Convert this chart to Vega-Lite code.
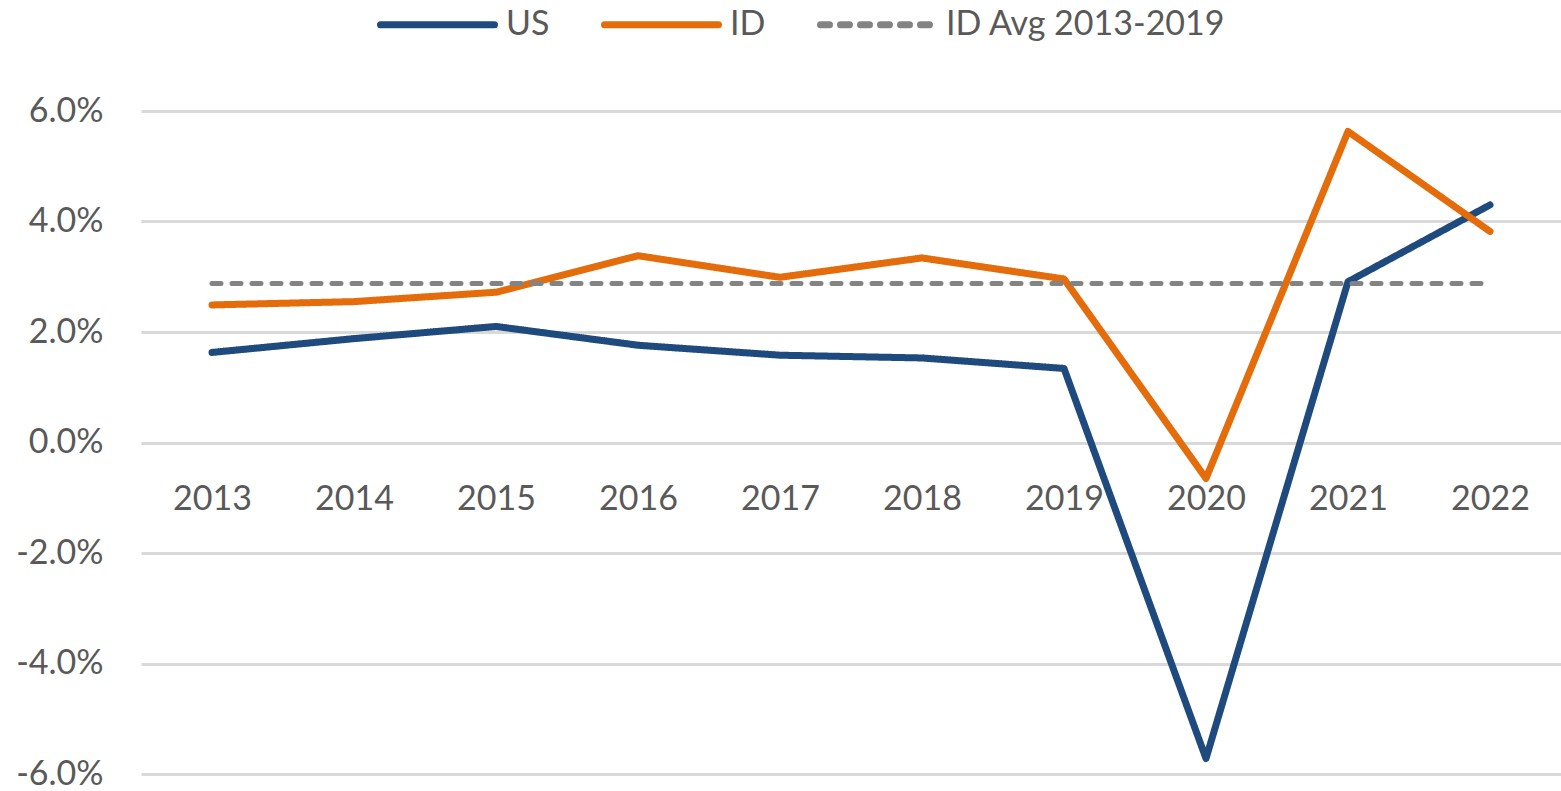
{
  "$schema": "https://vega.github.io/schema/vega-lite/v6.json",
  "width": 1420,
  "height": 663,
  "autosize": {"type": "none"},
  "padding": {"left": 141, "top": 111, "right": 0, "bottom": 17},
  "background": "white",
  "config": {
    "view": {"stroke": null},
    "font": "Lato"
  },
  "data": {
    "values": [
      {"year": "2013", "series": "US", "value": 1.63},
      {"year": "2014", "series": "US", "value": 1.88},
      {"year": "2015", "series": "US", "value": 2.10},
      {"year": "2016", "series": "US", "value": 1.76},
      {"year": "2017", "series": "US", "value": 1.58},
      {"year": "2018", "series": "US", "value": 1.53},
      {"year": "2019", "series": "US", "value": 1.34},
      {"year": "2020", "series": "US", "value": -5.72},
      {"year": "2021", "series": "US", "value": 2.91},
      {"year": "2022", "series": "US", "value": 4.30},
      {"year": "2013", "series": "ID", "value": 2.49},
      {"year": "2014", "series": "ID", "value": 2.55},
      {"year": "2015", "series": "ID", "value": 2.72},
      {"year": "2016", "series": "ID", "value": 3.38},
      {"year": "2017", "series": "ID", "value": 2.99},
      {"year": "2018", "series": "ID", "value": 3.34},
      {"year": "2019", "series": "ID", "value": 2.96},
      {"year": "2020", "series": "ID", "value": -0.65},
      {"year": "2021", "series": "ID", "value": 5.63},
      {"year": "2022", "series": "ID", "value": 3.82},
      {"year": "2013", "series": "ID Avg 2013-2019", "value": 2.88},
      {"year": "2014", "series": "ID Avg 2013-2019", "value": 2.88},
      {"year": "2015", "series": "ID Avg 2013-2019", "value": 2.88},
      {"year": "2016", "series": "ID Avg 2013-2019", "value": 2.88},
      {"year": "2017", "series": "ID Avg 2013-2019", "value": 2.88},
      {"year": "2018", "series": "ID Avg 2013-2019", "value": 2.88},
      {"year": "2019", "series": "ID Avg 2013-2019", "value": 2.88},
      {"year": "2020", "series": "ID Avg 2013-2019", "value": 2.88},
      {"year": "2021", "series": "ID Avg 2013-2019", "value": 2.88},
      {"year": "2022", "series": "ID Avg 2013-2019", "value": 2.88}
    ]
  },
  "encoding": {
    "x": {
      "field": "year",
      "type": "ordinal",
      "scale": {"type": "point", "padding": 0.5},
      "axis": {
        "title": null,
        "domain": false,
        "ticks": false,
        "tickSize": 0,
        "grid": false,
        "labelAngle": 0,
        "labelFont": "Lato",
        "labelFontSize": 34,
        "labelColor": "#595959",
        "labelPadding": 40,
        "offset": -331.5
      }
    },
    "y": {
      "field": "value",
      "type": "quantitative",
      "scale": {"domain": [-6, 6], "nice": false},
      "axis": {
        "title": null,
        "values": [-6, -4, -2, 0, 2, 4, 6],
        "domain": false,
        "ticks": false,
        "tickSize": 0,
        "grid": true,
        "gridColor": "#D9D9D9",
        "gridWidth": 3,
        "labelFont": "Lato",
        "labelFontSize": 34,
        "labelColor": "#595959",
        "labelPadding": 38,
        "labelExpr": "(datum.value < 0 ? '-' : '') + format(abs(datum.value), '.1f') + '%'"
      }
    },
    "color": {
      "field": "series",
      "type": "nominal",
      "scale": {
        "domain": ["US", "ID", "ID Avg 2013-2019"],
        "range": ["#1F4A7D", "#E46C0A", "#838383"]
      },
      "legend": {
        "title": null,
        "orient": "none",
        "direction": "horizontal",
        "legendX": 236,
        "legendY": -147,
        "symbolType": "stroke",
        "symbolSize": 12996,
        "symbolStrokeWidth": 7,
        "labelFont": "Lato",
        "labelFontSize": 34,
        "labelColor": "#595959",
        "labelOffset": 8,
        "columnPadding": 40,
        "labelLimit": 500,
        "encode": {"symbols": {"update": {"strokeCap": {"value": "round"}}}}
      }
    },
    "strokeDash": {
      "field": "series",
      "type": "nominal",
      "scale": {
        "domain": ["US", "ID", "ID Avg 2013-2019"],
        "range": [[1, 0], [1, 0], [9, 11]]
      },
      "legend": {
        "title": null,
        "orient": "none",
        "direction": "horizontal",
        "legendX": 236,
        "legendY": -147,
        "symbolType": "stroke",
        "symbolSize": 12996,
        "symbolStrokeWidth": 7,
        "labelFont": "Lato",
        "labelFontSize": 34,
        "labelColor": "#595959",
        "labelOffset": 8,
        "columnPadding": 40,
        "labelLimit": 500,
        "encode": {"symbols": {"update": {"strokeCap": {"value": "round"}}}}
      }
    }
  },
  "layer": [
    {
      "transform": [{"filter": "datum.series !== 'ID Avg 2013-2019'"}],
      "mark": {"type": "line", "strokeWidth": 7, "strokeCap": "round", "strokeJoin": "round"}
    },
    {
      "transform": [{"filter": "datum.series === 'ID Avg 2013-2019'"}],
      "mark": {"type": "line", "strokeWidth": 5, "strokeCap": "round", "strokeJoin": "round"}
    }
  ]
}
